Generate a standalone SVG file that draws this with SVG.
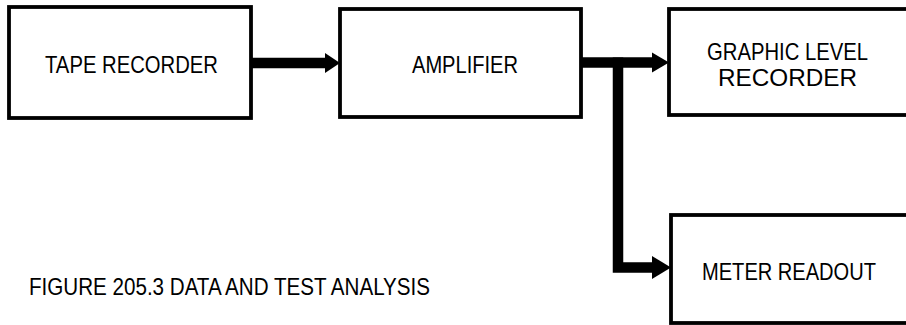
<svg xmlns="http://www.w3.org/2000/svg" width="906" height="325" viewBox="0 0 906 325">
<style>
.box{fill:#fff;stroke:#000;stroke-width:3.8}
.lbl{font-family:"Liberation Sans",Arial,sans-serif;font-size:24px;fill:#000}
.wire{fill:none;stroke:#000;stroke-width:10.5}
.head{fill:#000}
</style>
<rect width="906" height="325" fill="#fff"/>
<g id="tape-recorder">
<rect class="box" x="9" y="7" width="242" height="111"/>
<text class="lbl" x="45" y="73" textLength="173" lengthAdjust="spacingAndGlyphs">TAPE RECORDER</text>
</g>
<g id="amplifier">
<rect class="box" x="340" y="9" width="241" height="108"/>
<text class="lbl" x="412" y="73" textLength="106" lengthAdjust="spacingAndGlyphs">AMPLIFIER</text>
</g>
<g id="graphic-level-recorder">
<rect class="box" x="669" y="9" width="260" height="106"/>
<text class="lbl" x="707" y="60" textLength="161" lengthAdjust="spacingAndGlyphs">GRAPHIC LEVEL</text>
<text class="lbl" x="718" y="86" textLength="139" lengthAdjust="spacingAndGlyphs">RECORDER</text>
</g>
<g id="meter-readout">
<rect class="box" x="671" y="215" width="258" height="108"/>
<text class="lbl" x="702" y="280" textLength="174" lengthAdjust="spacingAndGlyphs">METER READOUT</text>
</g>
<g id="connectors">
<path class="wire" d="M251 63 H327"/>
<polygon class="head" points="325,53 340,63 325,73"/>
<path class="wire" d="M581 62.5 H654"/>
<polygon class="head" points="652,52.5 669,62.5 652,72.5"/>
<path class="wire" d="M618 57.5 V267.5 H654"/>
<polygon class="head" points="652,256 671,267.5 652,279"/>
</g>
<g id="caption">
<text class="lbl" x="29" y="295" textLength="401" lengthAdjust="spacingAndGlyphs">FIGURE 205.3 DATA AND TEST ANALYSIS</text>
</g>
</svg>
